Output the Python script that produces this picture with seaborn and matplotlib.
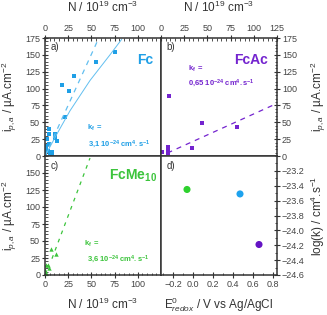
import matplotlib
matplotlib.use("Agg")
import matplotlib.pyplot as plt
from matplotlib.ticker import MultipleLocator
import numpy as np
import pandas as pd
import seaborn as sns

# a) Fc : peak current vs carrier density
FC_N = [75.4, 54.6, 31.6, 18.3, 26.2, 21.2, 10.4, 11.1, 13.2, 4.7, 4.7, 1.8,
        4.0, 1.1, 1.0, 3.2, 5.4, 7.5, 0.4, 7.2]
FC_I = [154.7, 140.0, 118.6, 105.3, 96.0, 57.4, 32.6, 27.0, 22.7, 39.6, 32.6, 24.8,
        17.8, 14.8, 10.0, 7.4, 5.0, 5.5, 4.0, 3.0]
FC_FIT_N = [0, 12.6, 26.9, 48.5, 70.0, 82.6]
FC_FIT_I = [0, 32, 67, 112, 150, 173]
FC_LIN_N = [0, 57]
FC_LIN_I = [0, 172]

# b) FcAc
FCAC_N = [8.3, 43.8, 82.3, 33.4, 7.5, 7.5, 7.5, 1.1]
FCAC_I = [88.5, 48.5, 42.5, 11.4, 13.8, 10.0, 4.9, 5.9]
FCAC_LIN_N = [7, 125]
FCAC_LIN_I = [4.5, 78]

# c) FcMe10
FCME_N = [6.3, 11.7, 1.1, 3.2, 4.7, 0.4, 1.0, 0.0]
FCME_I = [38.5, 31.0, 14.0, 14.0, 10.0, 7.4, 2.5, 0.0]
FCME_LIN_N = [7.5, 48.5]
FCME_LIN_I = [24, 172]

# d) log(k) vs redox potential
E_REDOX = [-0.06, 0.47, 0.66]
LOG_K = [-23.45, -23.51, -24.19]
MOLECULES = ["FcMe10", "Fc", "FcAc"]
D_COLORS = ["#2ed12e", "#1ea2ee", "#6414c4"]

BLUE = "#1f9fe6"
BLUE_LIGHT = "#62bff0"
PURPLE = "#7424cf"
GREEN = "#3cc43c"
DARK = "#333333"

sns.set_theme(style="ticks")
plt.rcParams["font.family"] = ["Liberation Sans", "DejaVu Sans"]
plt.rcParams["mathtext.fontset"] = "custom"
plt.rcParams["mathtext.rm"] = "Liberation Sans"
plt.rcParams["mathtext.it"] = "Liberation Sans:italic"
plt.rcParams["mathtext.bf"] = "Liberation Sans:bold"

fig = plt.figure(figsize=(3.27, 3.15), dpi=100)
L, W = 45 / 327, 116 / 327
ax_a = fig.add_axes([L, 1 - 156 / 315, W, 118 / 315])
ax_b = fig.add_axes([L + W, 1 - 156 / 315, W, 118 / 315])
ax_c = fig.add_axes([L, 1 - 275 / 315, W, 119 / 315])
ax_d = fig.add_axes([L + W, 1 - 275 / 315, W, 119 / 315])

n_label = r"N / 10$^{19}$ cm$^{-3}$"
i_label = r"i$_{p,a}$ / µA.cm$^{-2}$"
LAB_FS = 8.5
KF_FS = 5.5

for ax in (ax_a, ax_b, ax_c, ax_d):
    for s in ax.spines.values():
        s.set_color(DARK)
        s.set_linewidth(1.1)
    ax.tick_params(which="major", direction="inout", length=4, width=0.8,
                   labelsize=6.5, colors=DARK, labelcolor="#444444", pad=1.5)
    ax.tick_params(which="minor", direction="in", length=1.8, width=0.6, colors=DARK)

for ax in (ax_a, ax_b, ax_c):
    ax.set_xlim(0, 125)
    ax.set_ylim(0, 175)
    ax.xaxis.set_major_locator(MultipleLocator(25))
    ax.yaxis.set_major_locator(MultipleLocator(25))
    ax.xaxis.set_minor_locator(MultipleLocator(5))
    ax.yaxis.set_minor_locator(MultipleLocator(5))

# panel a
sns.lineplot(x=FC_FIT_N, y=FC_FIT_I, ax=ax_a, color=BLUE_LIGHT, lw=0.7)
sns.lineplot(x=FC_LIN_N, y=FC_LIN_I, ax=ax_a, color=BLUE_LIGHT, lw=0.9, linestyle=(0, (4, 4)))
sns.scatterplot(x=FC_N, y=FC_I, ax=ax_a, color=BLUE, marker="s", s=5, linewidth=0)
ax_a.xaxis.tick_top()
ax_a.set_xticks([0, 25, 50, 75, 100])
ax_a.set_xlim(0, 125)
ax_a.tick_params(labelbottom=False, bottom=False, top=True, labeltop=True,
                 left=True, right=False)
ax_a.tick_params(which="minor", bottom=False, top=True, right=False)
ax_a.xaxis.set_label_position("top")
ax_a.set_xlabel(n_label, fontsize=LAB_FS, color=DARK)
ax_a.xaxis.set_label_coords(0.5, 1.22)
ax_a.set_ylabel(i_label, fontsize=LAB_FS, color=DARK)
ax_a.yaxis.set_label_coords(-0.22, 0.5)
ax_a.text(0.05, 0.92, "a)", transform=ax_a.transAxes, fontsize=7, color=DARK, va="center")
ax_a.text(0.86, 0.81, "Fc", transform=ax_a.transAxes, fontsize=10, color=BLUE,
          fontweight="bold", ha="center", va="center")
ax_a.text(0.36, 0.24, r"$\mathbf{k_f}$ $\mathbf{=}$", transform=ax_a.transAxes,
          fontsize=KF_FS, color=BLUE, va="center")
ax_a.text(0.37, 0.10, r"$\mathbf{3{,}1\ 10^{-24}\ cm^{4}.s^{-1}}$", transform=ax_a.transAxes,
          fontsize=KF_FS, color=BLUE, va="center")

# panel b
sns.lineplot(x=FCAC_LIN_N, y=FCAC_LIN_I, ax=ax_b, color=PURPLE, lw=0.9, linestyle=(0, (4, 4)))
sns.scatterplot(x=FCAC_N, y=FCAC_I, ax=ax_b, color=PURPLE, marker="s", s=6, linewidth=0)
ax_b.xaxis.tick_top()
ax_b.yaxis.tick_right()
ax_b.tick_params(labelbottom=False, bottom=False, top=True, labeltop=True,
                 left=False, labelleft=False, right=True, labelright=True)
ax_b.tick_params(which="minor", bottom=False, top=True, left=False, right=True)
ax_b.xaxis.set_label_position("top")
ax_b.yaxis.set_label_position("right")
ax_b.set_xlabel(n_label, fontsize=LAB_FS, color=DARK)
ax_b.xaxis.set_label_coords(0.5, 1.22)
ax_b.set_ylabel(i_label, fontsize=LAB_FS, color=DARK)
ax_b.yaxis.set_label_coords(1.27, 0.5)
ax_b.text(0.05, 0.92, "b)", transform=ax_b.transAxes, fontsize=7, color=DARK, va="center")
ax_b.text(0.78, 0.81, "FcAc", transform=ax_b.transAxes, fontsize=10, color=PURPLE,
          fontweight="bold", ha="center", va="center")
ax_b.text(0.23, 0.74, r"$\mathbf{k_f}$ $\mathbf{=}$", transform=ax_b.transAxes,
          fontsize=KF_FS, color=PURPLE, va="center")
ax_b.text(0.23, 0.62, r"$\mathbf{0{,}65\ 10^{-24}\ cm^{4}.s^{-1}}$", transform=ax_b.transAxes,
          fontsize=KF_FS, color=PURPLE, va="center")

# panel c
sns.lineplot(x=FCME_LIN_N, y=FCME_LIN_I, ax=ax_c, color=GREEN, lw=0.9, linestyle=(0, (3, 4)))
sns.scatterplot(x=FCME_N, y=FCME_I, ax=ax_c, color=GREEN, marker="^", s=10, linewidth=0)
ax_c.set_xticks([0, 25, 50, 75, 100])
ax_c.set_yticks([0, 25, 50, 75, 100, 125, 150])
ax_c.set_xlim(0, 125)
ax_c.set_ylim(0, 175)
ax_c.tick_params(top=False, right=False)
ax_c.tick_params(which="minor", top=False, right=False)
ax_c.set_xlabel(n_label, fontsize=LAB_FS, color=DARK)
ax_c.xaxis.set_label_coords(0.5, -0.18)
ax_c.set_ylabel(i_label, fontsize=LAB_FS, color=DARK)
ax_c.yaxis.set_label_coords(-0.22, 0.5)
ax_c.text(0.05, 0.92, "c)", transform=ax_c.transAxes, fontsize=7, color=DARK, va="center")
ax_c.text(0.76, 0.83, r"FcMe$_{\mathbf{10}}$", transform=ax_c.transAxes, fontsize=10,
          color=GREEN, fontweight="bold", ha="center", va="center")
ax_c.text(0.34, 0.26, r"$\mathbf{k_f}$ $\mathbf{=}$", transform=ax_c.transAxes,
          fontsize=KF_FS, color=GREEN, va="center")
ax_c.text(0.36, 0.13, r"$\mathbf{3{,}6\ 10^{-24}\ cm^{4}.s^{-1}}$", transform=ax_c.transAxes,
          fontsize=KF_FS, color=GREEN, va="center")

# panel d
d_df = pd.DataFrame({"E": E_REDOX, "logk": LOG_K, "mol": MOLECULES})
sns.scatterplot(data=d_df, x="E", y="logk", hue="mol", palette=D_COLORS, ax=ax_d,
                s=26, linewidth=0, legend=False)
ax_d.set_xlim(-0.32, 0.84)
ax_d.set_ylim(-24.6, -23.0)
ax_d.set_xticks([-0.2, 0.0, 0.2, 0.4, 0.6, 0.8])
ax_d.set_yticks([-24.6, -24.4, -24.2, -24.0, -23.8, -23.6, -23.4, -23.2])
ax_d.xaxis.set_minor_locator(MultipleLocator(0.1))
ax_d.yaxis.set_minor_locator(MultipleLocator(0.1))
ax_d.yaxis.tick_right()
ax_d.tick_params(left=False, labelleft=False, right=True, labelright=True, top=False)
ax_d.tick_params(which="minor", left=False, right=True, top=False)
ax_d.yaxis.set_label_position("right")
ax_d.set_xlabel(r"E$^{0}_{redox}$ / V vs Ag/AgCl", fontsize=LAB_FS, color=DARK)
ax_d.xaxis.set_label_coords(0.5, -0.17)
ax_d.set_ylabel(r"log(k) / cm$^{4}$.s$^{-1}$", fontsize=LAB_FS, color=DARK)
ax_d.yaxis.set_label_coords(1.27, 0.5)
ax_d.text(0.05, 0.92, "d)", transform=ax_d.transAxes, fontsize=7, color=DARK, va="center")

fig.savefig("out.png", dpi=100)
